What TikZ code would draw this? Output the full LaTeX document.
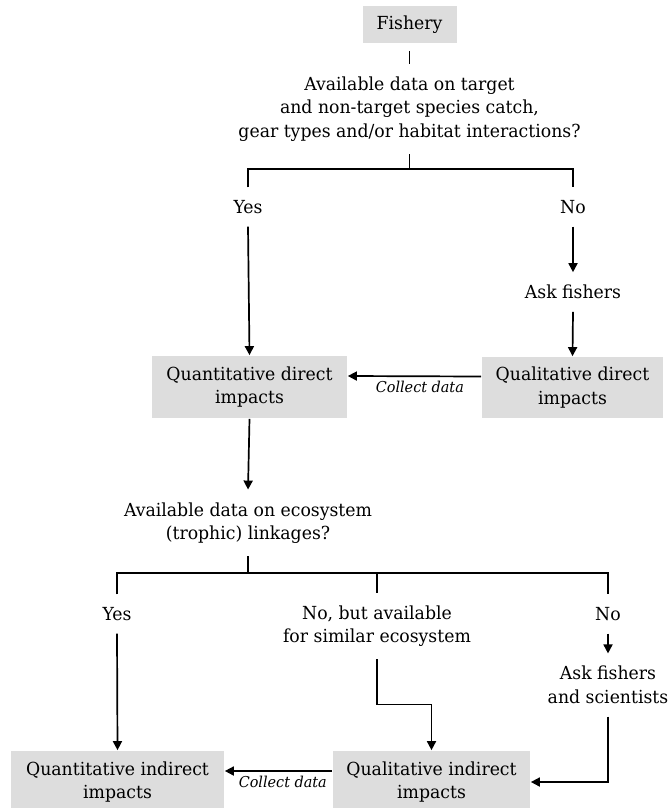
\documentclass[tikz,border=0pt]{standalone}
\usepackage{fontspec}
\setmainfont[FakeStretch=0.96]{DejaVu Serif}
\usetikzlibrary{arrows.meta}
\definecolor{boxgrey}{HTML}{DDDDDD}

\begin{document}
\begin{tikzpicture}[x = 1pt, y = -1pt, line width = 1.7pt,
		every node/.style = {font = \fontsize{18}{23.5}\selectfont, align = center},
		txt/.style = {inner xsep = 0pt, inner ysep = 12pt},
		greybox/.style = {fill = boxgrey, inner sep = 0pt},
		lab/.style = {font = \fontsize{15}{17}\selectfont\itshape, inner sep = 4pt},
		arr/.style = {-{Triangle[length = 9pt, width = 9pt]}}]
		\useasboundingbox (0, 0) rectangle (670, 808);
		%%%%%%%%%%%%%
		\node [greybox, minimum width = 94, minimum height = 37] (fishery) at (409.5, 24.5) {Fishery};
		\node [txt] (q1) at (409.5, 109) {Available data on target\\and non-target species catch,\\gear types and/or habitat interactions?};
		\coordinate (j1) at (409.5, 169);
		\node [txt] (yes1) at (248, 207) {Yes};
		\node [txt] (no1) at (573, 207) {No};
		\node [txt] (ask1) at (573, 292) {Ask fishers};
		\node [greybox, minimum width = 195, minimum height = 62] (qnd) at (249.5, 387) {Quantitative direct\\impacts};
		\node [greybox, minimum width = 181, minimum height = 61] (qld) at (572.5, 387.5) {Qualitative direct\\impacts};
		%%%%%%%%%%%%%
		\node [txt] (q2) at (248, 523) {Available data on ecosystem\\(trophic) linkages?};
		\coordinate (j2) at (248, 573);
		\node [txt] (yes2) at (117, 614) {Yes};
		\node [txt] (nb) at (377, 626) {No, but available\\for similar ecosystem};
		\node [txt] (no2) at (608, 614) {No};
		\node [txt] (ask2) at (608, 685) {Ask fishers\\and scientists};
		\node [greybox, minimum width = 213, minimum height = 62] (qni) at (117.5, 782) {Quantitative indirect\\impacts};
		\node [greybox, minimum width = 197, minimum height = 62] (qli) at (431.5, 782) {Qualitative indirect\\impacts};
		%%%%%%%%%%%%%
		\draw [shorten <= 7pt] (fishery.south) to (q1.north);
		\draw (q1.south) to (j1);
		\draw (yes1.north) |- (j1) -| (no1.north);
		\draw [arr] (yes1.south) to (qnd.north);
		\draw [arr] (no1.south) to (ask1.north);
		\draw [arr] (ask1.south) to (qld.north);
		\draw [arr] ([yshift = 11pt]qld.west) to node [lab, below, pos = 0.46] {Collect data} ([yshift = 11pt]qnd.east);
		\draw [arr] (qnd.south) to (q2.north);
		%%%%%%%%%%%%%
		\draw (q2.south) to (j2);
		\draw (yes2.north) |- (j2) -| (no2.north);
		\draw (nb.north) to (nb.north |- j2);
		\draw [arr] (yes2.south) to (qni.north);
		\draw [arr] (nb.south) -- ++(0, 45) -| (qli.north);
		\draw [arr] (no2.south) to (ask2.north);
		\draw [arr] (ask2.south) |- (qli.east);
		\draw [arr] ([yshift = 11pt]qli.west) to node [lab, below, pos = 0.46] {Collect data} ([yshift = 11pt]qni.east);
\end{tikzpicture}
\end{document}
